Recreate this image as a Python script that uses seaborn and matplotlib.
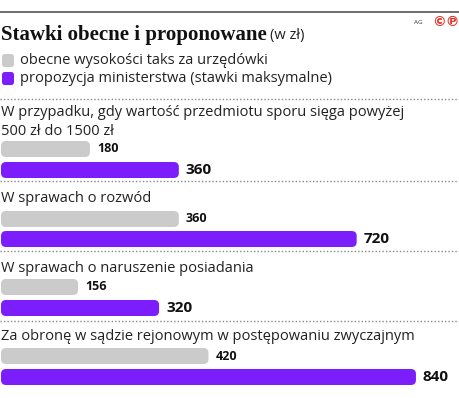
import matplotlib
matplotlib.use("Agg")
import matplotlib.pyplot as plt
from matplotlib.patches import FancyBboxPatch
from matplotlib.lines import Line2D
import seaborn as sns
import pandas as pd

# ── Data ──────────────────────────────────────────────────────────────────────
categories = [
    "W przypadku, gdy wartość przedmiotu sporu sięga powyżej\n500 zł do 1500 zł",
    "W sprawach o rozwód",
    "W sprawach o naruszenie posiadania",
    "Za obronę w sądzie rejonowym w postępowaniu zwyczajnym",
]
series = ["obecne wysokości taks za urzędówki",
          "propozycja ministerstwa (stawki maksymalne)"]
current = [180, 360, 156, 420]
proposed = [360, 720, 320, 840]

TITLE = "Stawki obecne i proponowane"
UNIT = "(w zł)"

# ── Layout (pixel rows on a 460x398 canvas) ──────────────────────────────────
W, H = 460, 398
X0, SCALE = 1.0, 0.494          # px where bars start, px per zł
gray_rows = [149, 219, 287, 356]
purple_rows = [170, 239, 308, 377]
label_rows = [122, 199, 268, 337]
sep_rows = [99, 181, 251, 321]

GRAY = "#cbcbcb"
PURPLE = "#7c1efc"
RED = "#e5352b"

sns.set_theme(style="white")
plt.rcParams["font.family"] = ["Open Sans", "DejaVu Sans"]

rows = []
for i in range(len(categories)):
    rows.append({"value": current[i], "ypos": gray_rows[i], "series": series[0]})
    rows.append({"value": proposed[i], "ypos": purple_rows[i], "series": series[1]})
df = pd.DataFrame(rows)

fig = plt.figure(figsize=(W / 100, H / 100), dpi=100)
ax = fig.add_axes([0, 0, 1, 1])

sns.barplot(data=df, x="value", y="ypos", hue="series", hue_order=series,
            palette=[GRAY, PURPLE], orient="h", native_scale=True, width=0.8,
            saturation=1, legend=False, ax=ax)

ax.set_xlim(-X0 / SCALE, (W - X0) / SCALE)
ax.set_ylim(H, 0)
ax.axis("off")

# rounded bars + value labels
for container, color, fs in zip(ax.containers, [GRAY, PURPLE], [9, 11]):
    for bar in list(container):
        x, y, w, h = bar.get_x(), bar.get_y(), bar.get_width(), bar.get_height()
        bar.set_visible(False)
        ax.add_patch(FancyBboxPatch((x, y), w, h,
                                    boxstyle=f"round,pad=0,rounding_size={5 / SCALE:.1f}",
                                    mutation_aspect=SCALE, fc=color, ec="none"))
        ax.annotate(f"{int(round(w))}", xy=(x + w, y + h / 2), xytext=(7, 0),
                    textcoords="offset pixels", va="center", ha="left",
                    fontsize=fs, fontweight="bold", color="#111111")

def fx(px):
    return px / W

def fy(py):
    return 1 - py / H

# header
fig.add_artist(Line2D([0, 1], [fy(12), fy(12)], color="#555555", lw=1.2))
fig.text(fx(1), fy(35), TITLE, fontsize=15, fontweight="bold",
         family=["Liberation Serif"], va="center", ha="left", color="#111111")
fig.text(fx(270), fy(36), UNIT, fontsize=10.5, va="center", ha="left", color="#222222")
fig.text(fx(414), fy(23), "AG", fontsize=4.5, va="center", ha="left", color="#333333")
fig.text(fx(432), fy(22), "©℗", fontsize=10, va="center", ha="left", color=RED,
         family=["DejaVu Sans"], fontweight="bold")

# legend
for py, color, name in zip([61, 79], [GRAY, PURPLE], series):
    fig.add_artist(FancyBboxPatch((fx(2), fy(py + 6)), fx(12), 13 / H,
                                  boxstyle="round,pad=0,rounding_size=0.006",
                                  mutation_aspect=W / H, fc=color, ec="none",
                                  transform=fig.transFigure))
    fig.text(fx(20), fy(py), name, fontsize=10.5, va="center", ha="left", color="#222222")

# separators and category labels
for py in sep_rows:
    fig.add_artist(Line2D([0, 1], [fy(py), fy(py)], color="#888888", lw=1,
                          linestyle=(0, (1, 1.5))))
for py, name in zip(label_rows, categories):
    fig.text(fx(1), fy(py), name, fontsize=10.5, va="center", ha="left",
             color="#222222", linespacing=1.3)

fig.savefig("out.png", dpi=100)
